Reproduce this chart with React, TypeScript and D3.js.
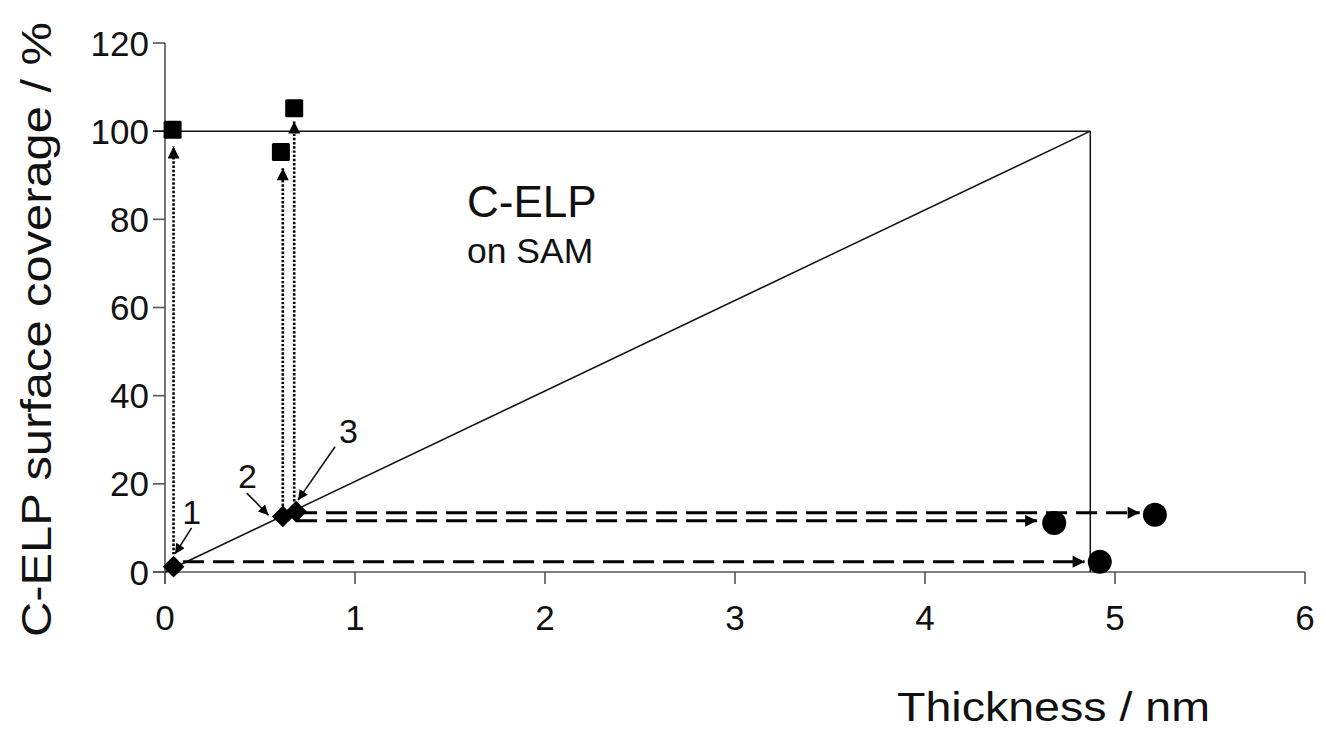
import React from 'react';
import * as d3 from 'd3';

// values
const xTicks = [0, 1, 2, 3, 4, 5, 6];
const yTicks = [0, 20, 40, 60, 80, 100, 120];

const squares = [
  { x: 0.04, y: 100.3 },
  { x: 0.61, y: 95.3 },
  { x: 0.68, y: 105.2 },
];
const diamonds = [
  { x: 0.045, y: 1.2 },
  { x: 0.62, y: 12.6 },
  { x: 0.69, y: 13.7 },
];
const circles = [
  { x: 4.92, y: 2.3 },
  { x: 4.68, y: 11.1 },
  { x: 5.21, y: 13.0 },
];
// full coverage box: 100 % at 4.87 nm
const boxCorner = { x: 4.87, y: 100 };

const dottedArrows = [
  { x: 0.045, y0: 4, y1: 96.5 },
  { x: 0.62, y0: 15, y1: 91.6 },
  { x: 0.68, y0: 16, y1: 102.2 },
];
const dashedArrows = [
  { y: 2.34, x0: 0.095, x1: 4.84 },
  { y: 11.6, x0: 0.69, x1: 4.59 },
  { y: 13.45, x0: 0.69, x1: 5.13 },
];
const pointLabels = ['1', '2', '3'];
const labelPos = [
  { x: 0.14, y: 13.6 },
  { x: 0.434, y: 21.8 },
  { x: 0.965, y: 32 },
];
const pointers = [
  { x0: 0.14, y0: 10, x1: 0.053, y1: 4.1 },
  { x0: 0.43, y0: 17.9, x1: 0.545, y1: 12.9 },
  { x0: 0.895, y0: 28.4, x1: 0.7, y1: 16.3 },
];

export default function App() {
  const width = 1326, height = 733;
  const x = d3.scaleLinear().domain([0, 6]).range([165, 1305]);
  const y = d3.scaleLinear().domain([0, 120]).range([572, 43]);
  const font = "'Liberation Sans', Arial, sans-serif";
  const axisColor = '#555';
  const diamond = d3.symbol().type(d3.symbolDiamond2).size(300);

  return (
    <svg width={width} height={height}
      style={{ position: 'absolute', left: 0, top: 0, background: '#fff' }}
      fontFamily={font} fill="#111">
      <defs>
        <marker id="head" viewBox="0 0 10 10" refX="10" refY="5"
          markerWidth="13" markerHeight="12" markerUnits="userSpaceOnUse" orient="auto">
          <path d="M0,0 L10,5 L0,10 z" fill="#000" />
        </marker>
        <marker id="headSmall" viewBox="0 0 10 10" refX="10" refY="5"
          markerWidth="11" markerHeight="10" markerUnits="userSpaceOnUse" orient="auto">
          <path d="M0,0 L10,5 L0,10 z" fill="#000" />
        </marker>
      </defs>

      {/* axes */}
      <g stroke={axisColor} strokeWidth={1.6}>
        <line x1={x(0)} x2={x(0)} y1={y(120)} y2={y(0) + 12} />
        <line x1={x(0) - 12} x2={x(6)} y1={y(0)} y2={y(0)} />
        {yTicks.map(t => (
          <line key={'yt' + t} x1={x(0) - 12} x2={x(0)} y1={y(t)} y2={y(t)} />
        ))}
        {xTicks.map(t => (
          <line key={'xt' + t} x1={x(t)} x2={x(t)} y1={y(0)} y2={y(0) + 12} />
        ))}
      </g>
      {yTicks.map(t => (
        <text key={'yl' + t} x={x(0) - 16} y={y(t)} dy="0.36em" textAnchor="end"
          fontSize={35}>{t}</text>
      ))}
      {xTicks.map(t => (
        <text key={'xl' + t} x={x(t)} y={y(0) + 58} textAnchor="middle"
          fontSize={35}>{t}</text>
      ))}

      {/* axis titles */}
      <text x={897} y={721} fontSize={41} textLength={313} lengthAdjust="spacingAndGlyphs">
        Thickness / nm
      </text>
      <text transform={`translate(51,${637}) rotate(-90)`} fontSize={43}
        textLength={615} lengthAdjust="spacingAndGlyphs">
        C-ELP surface coverage / %
      </text>

      {/* coverage box and diagonal */}
      <g stroke="#111" strokeWidth={1.5} fill="none">
        <line x1={x(0)} y1={y(0)} x2={x(boxCorner.x)} y2={y(boxCorner.y)} />
        <line x1={x(0) - 12} y1={y(boxCorner.y)} x2={x(boxCorner.x)} y2={y(boxCorner.y)} />
        <line x1={x(boxCorner.x)} y1={y(boxCorner.y)} x2={x(boxCorner.x)} y2={y(0)} />
      </g>

      <text x={467} y={217} fontSize={44}>C-ELP</text>
      <text x={467} y={263} fontSize={35.5}>on SAM</text>

      {/* dotted vertical arrows */}
      {dottedArrows.map((a, i) => (
        <line key={'dv' + i} x1={x(a.x)} x2={x(a.x)} y1={y(a.y0)} y2={y(a.y1)}
          stroke="#000" strokeWidth={2.6} strokeDasharray="2.4 1.8" markerEnd="url(#head)" />
      ))}

      {/* dashed horizontal arrows */}
      {dashedArrows.map((a, i) => (
        <line key={'dh' + i} x1={x(a.x0)} x2={x(a.x1)} y1={y(a.y)} y2={y(a.y)}
          stroke="#000" strokeWidth={3} strokeDasharray="21 9" markerEnd="url(#head)" />
      ))}

      {/* pointer arrows for numbered points */}
      {pointers.map((p, i) => (
        <line key={'pa' + i} x1={x(p.x0)} y1={y(p.y0)} x2={x(p.x1)} y2={y(p.y1)}
          stroke="#111" strokeWidth={1.6} markerEnd="url(#headSmall)" />
      ))}
      {pointLabels.map((l, i) => (
        <text key={'pl' + i} x={x(labelPos[i].x)} y={y(labelPos[i].y)} dy="0.36em"
          textAnchor="middle" fontSize={34}>{l}</text>
      ))}

      {/* markers */}
      {squares.map((d, i) => (
        <rect key={'sq' + i} x={x(d.x) - 9} y={y(d.y) - 9} width={18} height={18} rx={1.5} fill="#000" />
      ))}
      {diamonds.map((d, i) => (
        <path key={'dm' + i} d={diamond() as string}
          transform={`translate(${x(d.x)},${y(d.y)})`} fill="#000" />
      ))}
      {circles.map((d, i) => (
        <circle key={'ci' + i} cx={x(d.x)} cy={y(d.y)} r={12} fill="#000" />
      ))}
    </svg>
  );
}
